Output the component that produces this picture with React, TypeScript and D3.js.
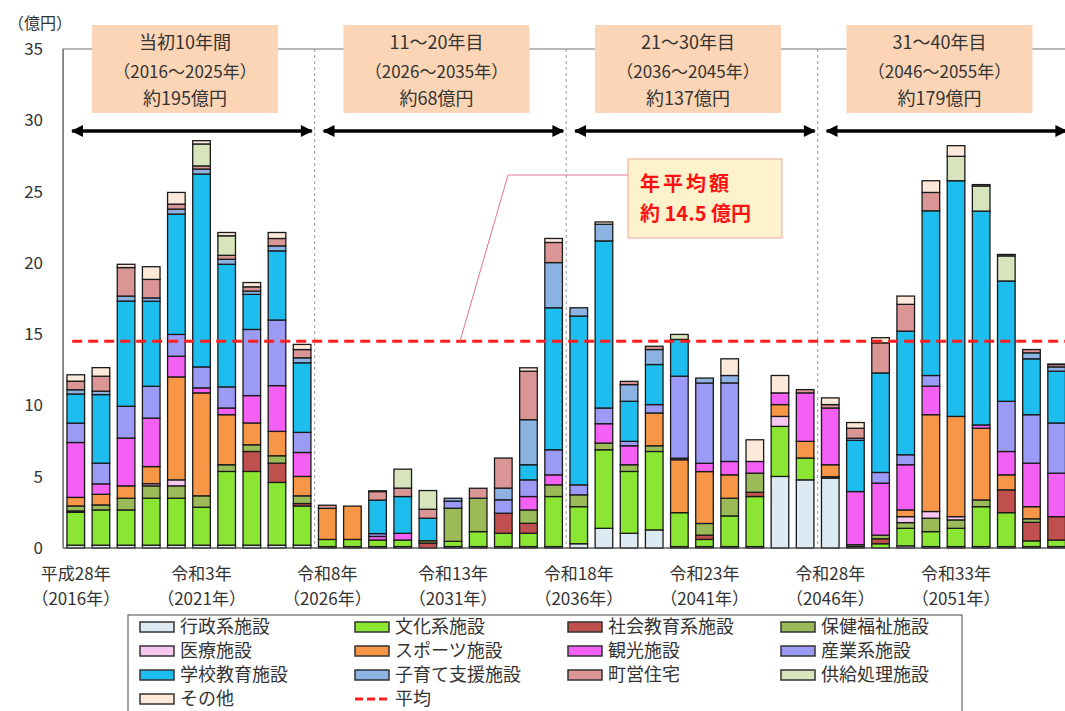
import React from 'react';
import * as d3 from 'd3';

const years = [2016, 2017, 2018, 2019, 2020, 2021, 2022, 2023, 2024, 2025,
  2026, 2027, 2028, 2029, 2030, 2031, 2032, 2033, 2034, 2035,
  2036, 2037, 2038, 2039, 2040, 2041, 2042, 2043, 2044, 2045,
  2046, 2047, 2048, 2049, 2050, 2051, 2052, 2053, 2054, 2055];

const categories = ['行政系施設', '文化系施設', '社会教育系施設', '保健福祉施設',
  '医療施設', 'スポーツ施設', '観光施設', '産業系施設',
  '学校教育施設', '子育て支援施設', '町営住宅', '供給処理施設', 'その他'];

const gyosei = [0.2, 0.2, 0.2, 0.2, 0.2, 0.2, 0.2, 0.2, 0.2, 0.2, 0.1, 0.1, 0.1, 0.1, 0, 0.1, 0.1, 0.1, 0.1, 0.1, 0.3, 1.38, 1.03, 1.27, 0.1, 0.1, 0.1, 0.1, 5.02, 4.78, 4.9, 0, 0, 0.15, 0.1, 0.1, 0.1, 0.1, 0.1, 0.1];
const bunka = [2.3, 2.47, 2.47, 3.29, 3.29, 2.66, 5.17, 5.17, 4.4, 2.75, 0.5, 0.5, 0.46, 0.46, 0, 0.37, 1.05, 0.93, 0.93, 3.51, 2.6, 5.51, 4.34, 5.5, 2.38, 0.5, 2.15, 3.51, 3.51, 1.53, 0, 0.1, 0.3, 1.23, 1.05, 1.28, 2.8, 2.38, 0.4, 0.46];
const shakai = [0.1, 0, 0, 0, 0, 0, 0, 1.4, 1.35, 0.17, 0, 0, 0, 0, 0.35, 0, 0, 1.41, 0.7, 0, 0, 0, 0, 0, 0, 0.3, 0, 0.3, 0, 0, 0, 0, 0.35, 0, 0, 0, 0, 1.6, 1.3, 1.64];
const hoken = [0.35, 0.35, 0.82, 0.87, 0.87, 0.8, 0.47, 0.47, 0.52, 0.54, 0, 0, 0, 0, 0.16, 2.32, 2.34, 0, 0.94, 0.82, 0.83, 0.47, 0.47, 0.4, 0, 0.82, 1.24, 1.34, 0, 0, 0, 0.13, 0.25, 0.4, 0.94, 0.59, 0.47, 0, 0.25, 0];
const iryo = [0, 0, 0, 0.15, 0.42, 0, 0, 0, 0, 0, 0, 0, 0, 0, 0, 0, 0, 0, 0, 0, 0, 0, 0, 0, 0, 0, 0, 0, 0.7, 0, 0.1, 0, 0, 0.42, 0.47, 0.23, 0, 0, 0, 0];
const sports = [0.6, 0.75, 0.87, 1.2, 7.22, 7.22, 3.51, 1.53, 1.71, 1.36, 2.18, 2.34, 0, 0, 0, 0, 0, 0, 0, 0, 0, 0, 0, 2.3, 3.71, 3.64, 1.64, 0, 0.83, 1.17, 0.84, 0, 0, 0.47, 6.79, 7.03, 5.03, 1.05, 0.85, 0];
const kanko = [3.85, 0.73, 3.35, 3.4, 1.45, 0.35, 0.47, 1.92, 3.21, 1.68, 0, 0, 0.25, 0.47, 0, 0, 0, 0, 0.94, 0.7, 0, 1.36, 1.33, 0, 0.11, 0.58, 0.94, 0.82, 0.82, 3.4, 3.98, 3.73, 3.65, 3.17, 2.0, 0, 0.23, 1.64, 3.05, 3.05];
const sangyo = [1.36, 1.45, 2.23, 2.23, 1.53, 1.47, 1.48, 4.64, 4.6, 1.41, 0, 0, 0.2, 0, 0, 0.5, 0, 0.94, 1.17, 1.76, 0.7, 1.1, 0.31, 0.59, 5.75, 5.63, 5.51, 0, 0, 0, 0, 0, 0.75, 0.7, 0.75, 0, 0, 3.52, 3.4, 3.52];
const gakko = [2.04, 4.81, 7.38, 5.97, 8.44, 13.53, 8.6, 2.46, 4.85, 4.88, 0, 0, 2.35, 2.58, 1.58, 0, 0, 0, 1.06, 9.96, 11.84, 11.72, 2.81, 2.81, 2.58, 0, 0, 0, 0, 0, 0, 3.59, 6.98, 8.67, 11.55, 16.53, 15.0, 8.44, 3.92, 3.63];
const kosodate = [0.3, 0.24, 0.35, 0.23, 0.35, 0.35, 0.35, 0.23, 0.35, 0.35, 0, 0, 0, 0, 0, 0.2, 0, 0.82, 3.16, 3.17, 0.58, 1.17, 1.17, 1.05, 0, 0.35, 0.52, 0, 0, 0, 0, 0.15, 0, 0, 0, 0, 0, 0, 0.42, 0.3];
const choei = [0.6, 1.05, 2.0, 1.3, 0.35, 0.22, 0.28, 0.3, 0.52, 0.58, 0.22, 0, 0.6, 0.59, 0.63, 0, 0.7, 2.11, 3.4, 1.41, 0, 0, 0.23, 0.23, 0, 0, 0, 0, 0, 0.23, 0.24, 0.7, 2.11, 1.88, 1.29, 0, 0, 0, 0.23, 0.17];
const kyokyu = [0, 0, 0, 0, 0, 1.54, 1.37, 0, 0, 0, 0, 0, 0, 1.33, 1.31, 0, 0, 0, 0, 0, 0, 0, 0, 0, 0.35, 0, 0, 0, 0, 0, 0, 0, 0, 0, 0, 1.71, 1.76, 1.76, 0, 0];
const sonota = [0.45, 0.6, 0.23, 0.89, 0.82, 0.23, 0.23, 0.3, 0.42, 0.36, 0, 0, 0.05, 0, 0, 0, 0, 0, 0.24, 0.28, 0, 0.16, 0, 0, 0, 0, 1.17, 1.52, 1.22, 0, 0.47, 0.4, 0.36, 0.58, 0.82, 0.75, 0.1, 0.1, 0, 0.03];

const seriesValues = [gyosei, bunka, shakai, hoken, iryo, sports, kanko, sangyo, gakko, kosodate, choei, kyokyu, sonota];

const colors = ['#DCEBF3', '#8AE632', '#C0504D', '#9BBB59', '#F6C8F0', '#F79646', '#F360F3', '#9B9BF5', '#1DBDEE', '#8DB3E2', '#DA9694', '#D8E4BC', '#FDE9D9'];

const average = 14.5;
const yTicks = [0, 5, 10, 15, 20, 25, 30, 35];
const xLabelYears = [2016, 2021, 2026, 2031, 2036, 2041, 2046, 2051];
const xLabelEra = ['平成28年', '令和3年', '令和8年', '令和13年', '令和18年', '令和23年', '令和28年', '令和33年'];
const xLabelWestern = ['（2016年）', '（2021年）', '（2026年）', '（2031年）', '（2036年）', '（2041年）', '（2046年）', '（2051年）'];

const periodStarts = [2016, 2026, 2036, 2046];
const periodTitles = ['当初10年間', '11～20年目', '21～30年目', '31～40年目'];
const periodRanges = ['（2016～2025年）', '（2026～2035年）', '（2036～2045年）', '（2046～2055年）'];
const periodTotals = ['約195億円', '約68億円', '約137億円', '約179億円'];

const FONT = "'Noto Sans CJK JP', 'Noto Sans', sans-serif";

export default function App() {
  const W = 1065, H = 711;
  const left = 63.2, right = 1069.2, top = 49, bottom = 548;
  const x = d3.scaleBand<number>().domain(years).range([left, right]).paddingInner(0.3).paddingOuter(0.15);
  const y = d3.scaleLinear().domain([0, 35]).range([bottom, top]);
  const step = x.step();

  const rows = years.map((yr, i) => {
    const o: any = { year: yr };
    categories.forEach((c, k) => { o[c] = seriesValues[k][i]; });
    return o;
  });
  const stacked = d3.stack<any>().keys(categories)(rows);

  const boundary = (yr: number) => (x(yr) as number) - step * 0.15;
  const periodEnds = periodStarts.map((s) => s + 10);
  const bEnd = (yr: number) => (yr > 2055 ? right : boundary(yr));

  const legendCols = [140, 355, 568, 781];
  const legendRows = [627, 651, 675, 699];

  return (
    <svg width={W} height={H} style={{ position: 'absolute', left: 0, top: 0, background: '#fff' }} fontFamily={FONT}>
      <defs>
        <marker id="ah" viewBox="0 0 10 10" refX="9" refY="5" markerWidth="14" markerHeight="12" markerUnits="userSpaceOnUse" orient="auto-start-reverse">
          <path d="M0,0 L10,5 L0,10 z" fill="#000" />
        </marker>
      </defs>
      <rect x={0} y={0} width={W} height={H} fill="#fff" />

      {/* plot frame */}
      <rect x={left} y={top} width={right - left} height={bottom - top} fill="none" stroke="#8a8a8a" strokeWidth={1.2} />

      {/* period separators */}
      {periodStarts.slice(1).map((s) => (
        <line key={s} x1={boundary(s)} x2={boundary(s)} y1={top} y2={bottom} stroke="#9a9a9a" strokeWidth={1} strokeDasharray="3,3" />
      ))}

      {/* bars */}
      {stacked.map((layer, k) => (
        <g key={categories[k]} fill={colors[k]}>
          {layer.map((d, i) => (
            d[1] - d[0] > 0 ? (
              <rect key={i} x={x(years[i])} width={x.bandwidth()} y={y(d[1])} height={y(d[0]) - y(d[1])}
                stroke="#1a1a1a" strokeWidth={1.3} />
            ) : null
          ))}
        </g>
      ))}

      {/* axes */}
      <line x1={left} x2={left} y1={top} y2={bottom} stroke="#7a7a7a" strokeWidth={1.5} />
      <line x1={left} x2={right} y1={bottom} y2={bottom} stroke="#555" strokeWidth={1.2} />
      {yTicks.map((t) => (
        <text key={t} x={43} y={y(t)} dy="0.35em" textAnchor="end" fontSize={17} fill="#333">{t}</text>
      ))}
      <text x={8} y={29} fontSize={16} fill="#333">（億円）</text>

      {/* x labels */}
      {xLabelYears.map((yr, i) => (
        <g key={yr}>
          <text x={(x(yr) as number) + x.bandwidth() / 2} y={580} textAnchor="middle" fontSize={17} fill="#333">{xLabelEra[i]}</text>
          <text x={(x(yr) as number) + x.bandwidth() / 2} y={605} textAnchor="middle" fontSize={17} fill="#333">{xLabelWestern[i]}</text>
        </g>
      ))}

      {/* average line */}
      <line x1={left + 9} x2={W} y1={y(average)} y2={y(average)} stroke="#FF1E1E" strokeWidth={3} strokeDasharray="10,6" />

      {/* period headers and arrows */}
      {periodStarts.map((s, i) => {
        const a = boundary(s);
        const b = bEnd(periodEnds[i]);
        const cx = (a + b) / 2 - 4;
        return (
          <g key={s}>
            <rect x={cx - 93} y={25} width={186} height={88} fill="#FBD5B5" />
            <text x={cx} y={49} textAnchor="middle" fontSize={18} fill="#333">{periodTitles[i]}</text>
            <text x={cx} y={78} textAnchor="middle" fontSize={17} fill="#333">{periodRanges[i]}</text>
            <text x={cx} y={105} textAnchor="middle" fontSize={18} fill="#333">{periodTotals[i]}</text>
            <line x1={a + 9} x2={b - 3} y1={131} y2={131} stroke="#000" strokeWidth={3.5}
              markerStart="url(#ah)" markerEnd="url(#ah)" />
          </g>
        );
      })}

      {/* callout */}
      <polyline points={`628,175 508,175 460,${y(average)}`} fill="none" stroke="#E27594" strokeWidth={1} />
      <rect x={628} y={159} width={154} height={79} fill="#FEF2CD" stroke="#E9A79A" strokeWidth={1} />
      <text x={640} y={191} fontSize={20} fontWeight="bold" fill="#FF1010" letterSpacing={3}>年平均額</text>
      <text x={640} y={221} fontSize={20} fontWeight="bold" fill="#FF1010">約 14.5 億円</text>

      {/* legend */}
      <rect x={128} y={615} width={834} height={110} fill="#fff" stroke="#666" strokeWidth={1.2} />
      {categories.map((c, k) => {
        const col = k % 4, row = Math.floor(k / 4);
        const lx = legendCols[col], ly = legendRows[row];
        return (
          <g key={c}>
            <rect x={lx} y={ly - 5} width={34} height={10} fill={colors[k]} stroke="#333" strokeWidth={1.5} />
            <text x={lx + 40} y={ly} dy="0.35em" fontSize={18} fill="#333">{c}</text>
          </g>
        );
      })}
      <line x1={legendCols[1]} x2={legendCols[1] + 34} y1={legendRows[3]} y2={legendRows[3]} stroke="#FF1E1E" strokeWidth={3} strokeDasharray="8,4" />
      <text x={legendCols[1] + 40} y={legendRows[3]} dy="0.35em" fontSize={18} fill="#333">平均</text>
    </svg>
  );
}
